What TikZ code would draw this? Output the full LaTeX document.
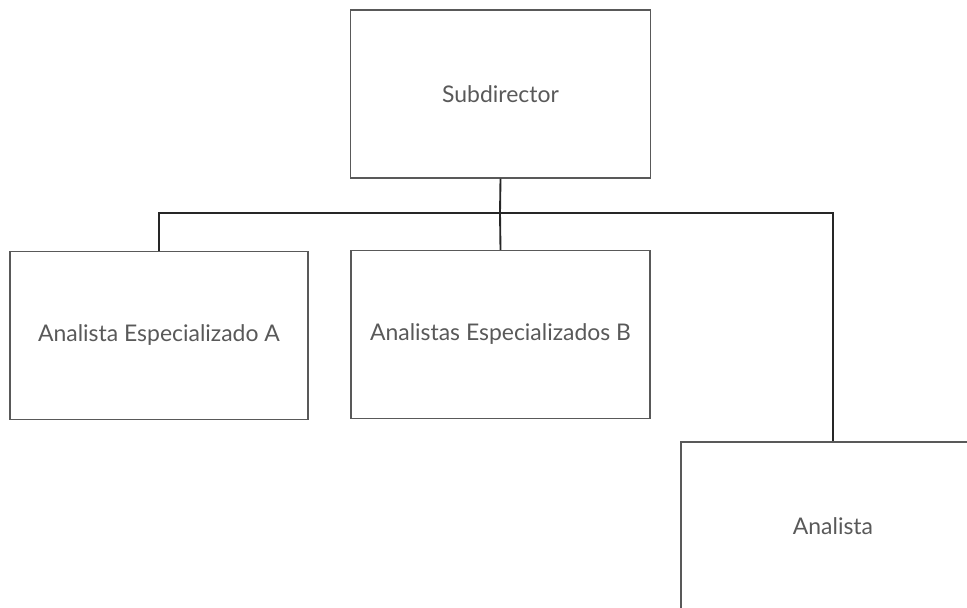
\documentclass[tikz,border=0pt]{standalone}
\usepackage{fontspec}
\setmainfont{Lato}
\usepackage{tikz}
\tikzstyle{puesto} = [draw=black!65, line width=0.9pt, rectangle, minimum width=225pt, minimum height=126pt, text=black!65, font=\fontsize{17.2}{20}\selectfont, inner sep=0pt]
\tikzstyle{linea} = [draw=black!85, line width=1.4pt]

\begin{document}
\begin{tikzpicture}[x=0.75pt, y=-0.75pt]
    \useasboundingbox (0,0) rectangle (967,607);
    \clip (0,0) rectangle (967,607);
    \node[puesto] (sub) at (500.5,94) {Subdirector};
    \node[puesto, minimum width=223.5pt] (espa) at (159,335.5) {Analista Especializado A};
    \node[puesto, minimum width=224.25pt] (espb) at (500.5,334.5) {Analistas Especializados B};
    \node[puesto, minimum width=228pt] (ana) at (833,526) {Analista};
    \coordinate (bar) at (500,213);
    \draw[linea] (sub.south) -- (bar);
    \draw[linea] (espa.north) |- (bar) -| (ana.north);
    \draw[linea] (bar) -- (espb.north);
\end{tikzpicture}
\end{document}
